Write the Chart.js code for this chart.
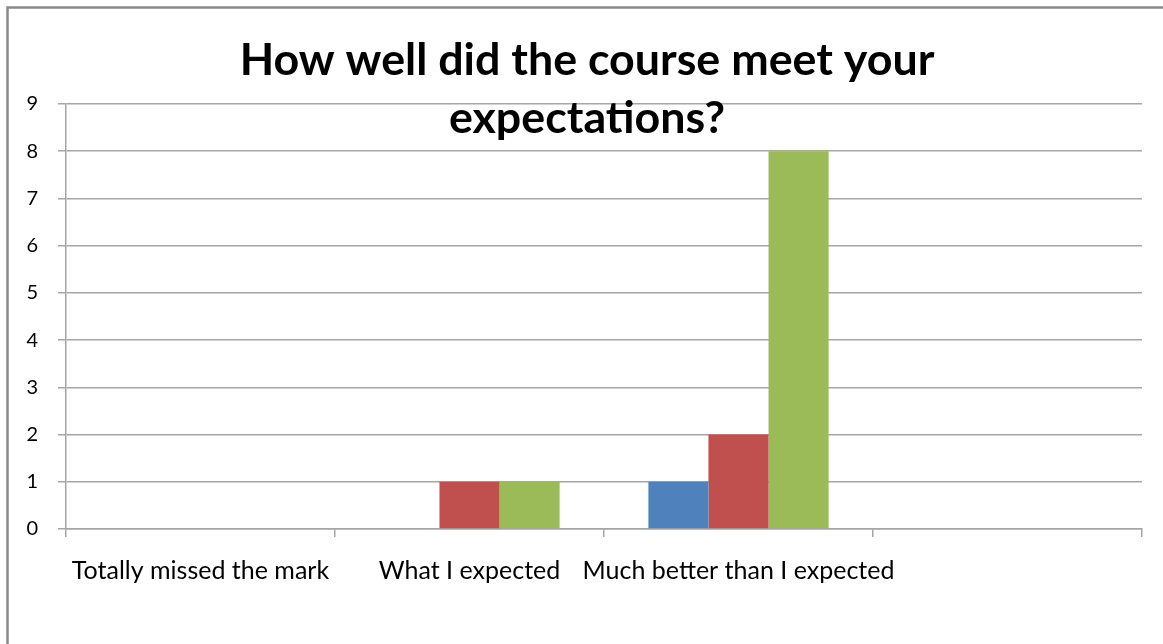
<!DOCTYPE html>
<html><head><meta charset="utf-8">
<script src="https://cdn.jsdelivr.net/npm/chart.js@4/dist/chart.umd.min.js"></script>
<style>html,body{margin:0;padding:0;background:#fff;}#wrap{width:1163px;height:644px;position:relative;}</style>
</head><body><div id="wrap"><canvas id="c" width="1163" height="644"></canvas></div>
<script>
const categories = ["Totally missed the mark", "What I expected", "Much better than I expected", ""];
const series1 = [0, 0, 1, 0];
const series2 = [0, 1, 2, 0];
const series3 = [0, 1, 8, 0];
const yTicks = [0,1,2,3,4,5,6,7,8,9];
const titleLines = ["How well did the course meet your", "expectations?"];

const FONT = "Lato, 'Open Sans', sans-serif";
const GRID = "#a6a6a6";

const overlay = {
  id: 'overlay',
  beforeDraw(chart) {
    const ctx = chart.ctx;
    ctx.save();
    ctx.fillStyle = '#fff';
    ctx.fillRect(0, 0, chart.width, chart.height);
    ctx.strokeStyle = '#8a8a8a';
    ctx.lineWidth = 2.5;
    ctx.beginPath();
    ctx.moveTo(7.5, 700); ctx.lineTo(7.5, 7.5); ctx.lineTo(1200, 7.5);
    ctx.stroke();
    ctx.restore();
  },
  afterDraw(chart) {
    const ctx = chart.ctx;
    ctx.save();
    ctx.fillStyle = '#000';
    ctx.textAlign = 'center';
    ctx.textBaseline = 'alphabetic';
    let size = 44;
    ctx.font = `bold ${size}px ${FONT}`;
    const w = ctx.measureText(titleLines[0]).width;
    size = size * 695 / w;
    ctx.font = `bold ${size}px ${FONT}`;
    ctx.fillText(titleLines[0], 587, 75);
    ctx.fillText(titleLines[1], 587, 133);
    ctx.restore();
  }
};

new Chart(document.getElementById('c'), {
  type: 'bar',
  data: {
    labels: categories,
    datasets: [
      { label: 'Series1', data: series1, backgroundColor: '#4F81BD' },
      { label: 'Series2', data: series2, backgroundColor: '#C0504D' },
      { label: 'Series3', data: series3, backgroundColor: '#9BBB59' }
    ]
  },
  options: {
    responsive: false,
    animation: false,
    devicePixelRatio: 1,
    layout: { padding: { left: 0, right: 21, top: 104, bottom: 0 } },
    plugins: { legend: { display: false }, title: { display: false }, tooltip: { enabled: false } },
    datasets: { bar: { categoryPercentage: 0.67, barPercentage: 1.0 } },
    scales: {
      x: {
        grid: { offset: true, drawOnChartArea: false, drawTicks: true, tickLength: 8, color: GRID, lineWidth: 1.5 },
        border: { display: true, color: GRID, width: 1.5 },
        ticks: { color: '#000', font: { family: FONT, size: 25 }, padding: 19, maxRotation: 0, autoSkip: false },
        afterFit(s) { s.height = 115; }
      },
      y: {
        min: 0, max: 9,
        afterBuildTicks(s) { s.ticks = yTicks.map(v => ({ value: v })); },
        grid: { drawTicks: true, tickLength: 8, color: GRID, lineWidth: 1.5 },
        border: { display: true, color: GRID, width: 1.5 },
        ticks: { color: '#000', font: { family: FONT, size: 20 }, padding: 20 },
        afterFit(s) { s.width = 66; }
      }
    }
  },
  plugins: [overlay]
});
</script></body></html>
